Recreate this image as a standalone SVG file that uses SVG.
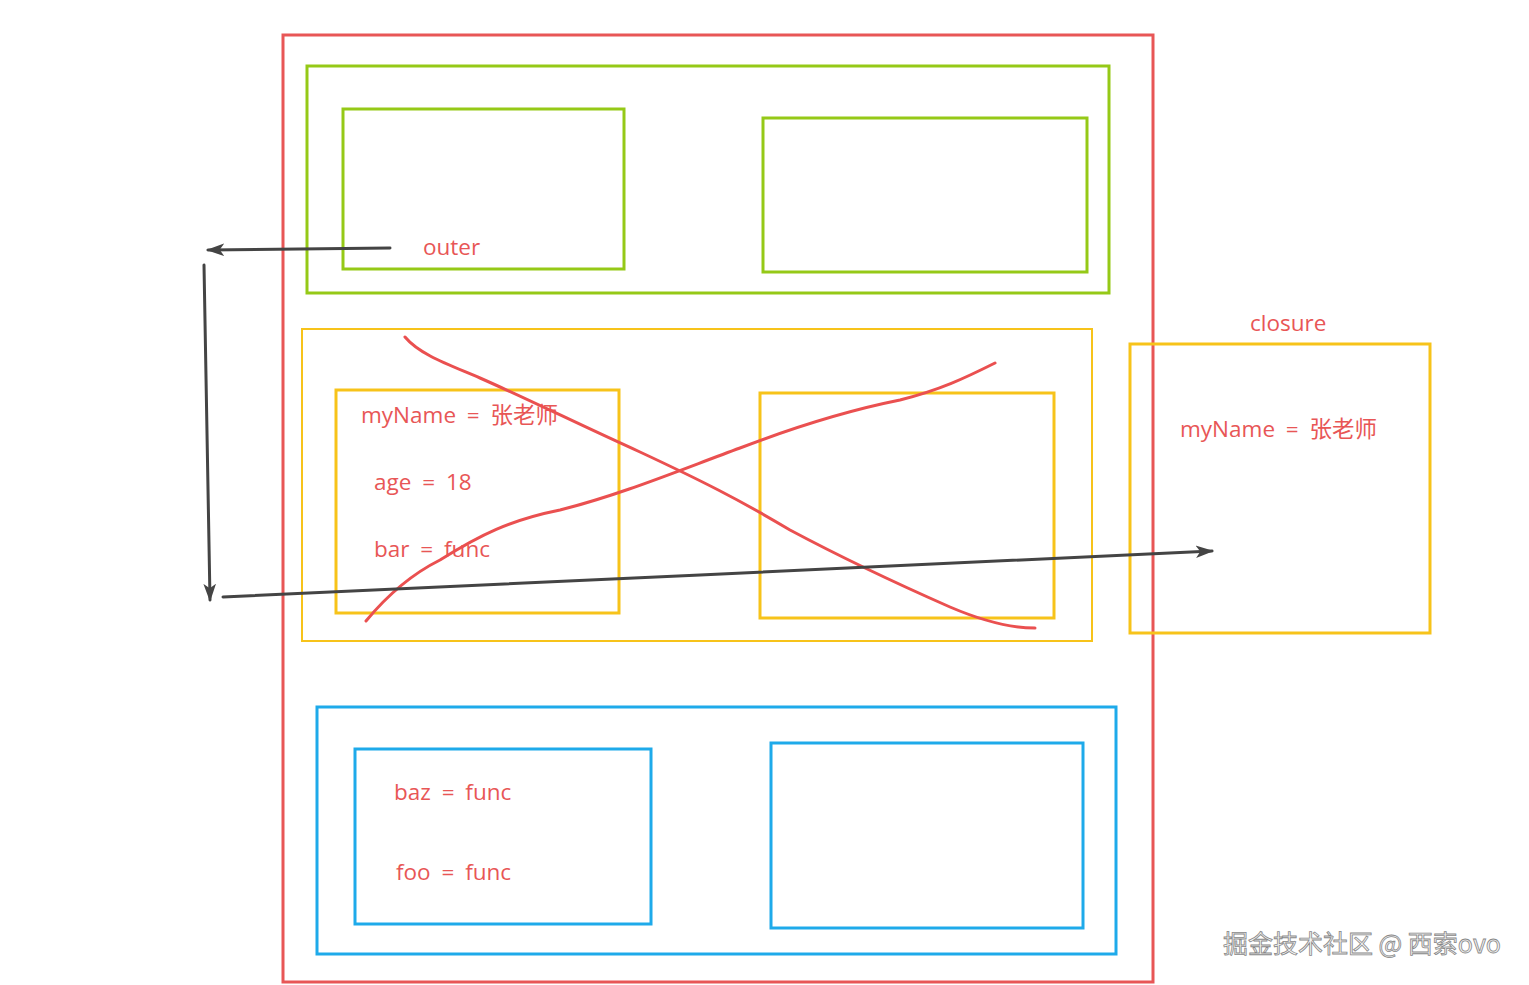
<svg xmlns="http://www.w3.org/2000/svg" width="1529" height="985" viewBox="0 0 1529 985">
<style>
.box{fill:none;stroke-width:3}
.red{stroke:#e85656}
.green{stroke:#95c917}
.yellow{stroke:#f7c31a}
.blue{stroke:#1eaaea}
.t{font-family:"Segoe UI","Open Sans","Noto Sans CJK SC",sans-serif;font-size:22.5px;word-spacing:5px;fill:#e85656}
.cross{fill:none;stroke:#ea5050;stroke-width:3;stroke-linecap:round;stroke-linejoin:round}
.arr{fill:none;stroke:#444;stroke-linecap:round}
.wm{font-family:"Noto Sans CJK SC",sans-serif;font-size:25px;fill:#f4f4f4;stroke:#888;stroke-width:0.8}
</style>
<defs>
<marker id="ah" viewBox="0 0 10 10" refX="9" refY="5" markerWidth="18" markerHeight="18" orient="auto" markerUnits="userSpaceOnUse">
<path d="M0,1.5 L10,5 L0,8.5 L2.5,5 Z" fill="#444"/>
</marker>
</defs>
<rect width="1529" height="985" fill="#fff"/>
<g id="global-scope"><rect class="box red" x="283" y="35" width="870" height="947"/></g>
<g id="outer-scope">
<rect class="box green" x="307" y="66" width="802" height="227"/>
<rect class="box green" x="343" y="109" width="281" height="160"/>
<rect class="box green" x="763" y="118" width="324" height="154"/>
<text class="t" x="423" y="255">outer</text>
</g>
<g id="bar-scope">
<rect class="box yellow" x="302" y="329" width="790" height="312" style="stroke-width:2"/>
<rect class="box yellow" x="336" y="390" width="283" height="223"/>
<rect class="box yellow" x="760" y="393" width="294" height="225"/>
<text class="t" x="361" y="423">myName = 张老师</text>
<text class="t" x="374" y="490">age = 18</text>
<text class="t" x="374" y="557">bar = func</text>
</g>
<g id="closure">
<rect class="box yellow" x="1130" y="344" width="300" height="289"/>
<text class="t" x="1250" y="331">closure</text>
<text class="t" x="1180" y="437">myName = 张老师</text>
</g>
<g id="baz-scope">
<rect class="box blue" x="317" y="707" width="799" height="247"/>
<rect class="box blue" x="355" y="749" width="296" height="175"/>
<rect class="box blue" x="771" y="743" width="312" height="185"/>
<text class="t" x="394" y="800">baz = func</text>
<text class="t" x="396" y="880">foo = func</text>
</g>
<g id="cross">
<path class="cross" d="M405,337 C420,355 450,365 480,378 C530,400 580,425 640,452 C700,480 740,500 790,530 C850,562 900,585 950,607 C985,622 1010,628 1035,628"/>
<path class="cross" d="M366,621 C385,598 410,575 440,560 C480,535 510,520 560,510 C620,495 680,470 740,448 C800,425 850,410 900,400 C940,390 965,378 995,363"/>
</g>
<g id="connectors">
<path class="arr" d="M390,248 L208,250" stroke-width="3" marker-end="url(#ah)"/>
<path class="arr" d="M204,265 L210,600" stroke-width="3" marker-end="url(#ah)"/>
<path class="arr" d="M223,597 L700,575 L1212,551" stroke-width="3" marker-end="url(#ah)"/>
</g>
<text class="wm" x="1223" y="953">掘金技术社区 @ 西索ovo</text>
</svg>
